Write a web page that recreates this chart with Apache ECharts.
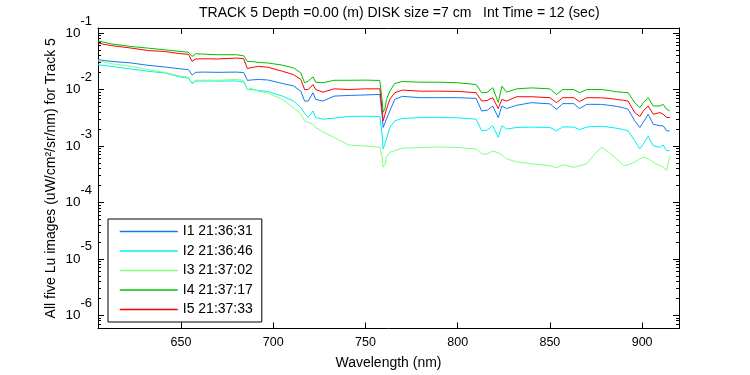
<!DOCTYPE html>
<html><head><meta charset="utf-8">
<script src="https://cdn.jsdelivr.net/npm/echarts@6.0.0/dist/echarts.min.js"></script>
<style>html,body{margin:0;padding:0;background:#fff}#c{width:750px;height:375px}</style>
</head><body><div id="c"></div>
<script>
// ---- data ----
const wavelength = [605, 612, 623, 632, 641, 650, 654, 656, 658, 662,
  670, 680, 684, 686, 688, 692, 697, 705, 711, 715,
  717, 719, 721.6, 723, 727, 733, 741, 750, 757.8, 759,
  759.6, 760.5, 761.4, 763.2, 765.9, 770, 780, 790, 800, 810,
  813, 816, 819, 822, 824, 826.5, 832, 840, 850, 853.6,
  857, 863, 866, 870, 872, 878, 882, 886, 890, 892.4,
  896, 898.8, 900.6, 903.3, 906, 909.6, 911.4, 913.3, 915];

const I1 = [0.0338, 0.0316, 0.0296, 0.0269, 0.0252, 0.0232, 0.0226, 0.0181, 0.0202, 0.0204,
  0.0202, 0.0204, 0.0200, 0.0145, 0.0148, 0.0151, 0.0148, 0.0128, 0.0116, 0.00937,
  0.00626, 0.00626, 0.0088, 0.0067, 0.00626, 0.00766, 0.00787, 0.00803, 0.0082, 0.00365,
  0.00213, 0.00225, 0.00299, 0.00417, 0.0067, 0.00757, 0.00718, 0.00718, 0.00718, 0.00698,
  0.00417, 0.00429, 0.00511, 0.00319, 0.00511, 0.0046, 0.00526, 0.00586, 0.00558, 0.00447,
  0.00563, 0.00563, 0.0046, 0.00547, 0.00547, 0.00547, 0.00526, 0.00505, 0.00475, 0.00447,
  0.00279, 0.00213, 0.00261, 0.00365, 0.00244, 0.00228, 0.00228, 0.00186, 0.00186];

const I2 = [0.0276, 0.0258, 0.0232, 0.0211, 0.0197, 0.0166, 0.0160, 0.0128, 0.0141, 0.0142,
  0.0141, 0.0142, 0.0136, 0.0100, 0.0100, 0.00964, 0.00927, 0.00766, 0.00626, 0.00479,
  0.00380, 0.00319, 0.00417, 0.00319, 0.00299, 0.00311, 0.00333, 0.00337, 0.00333, 0.00163,
  0.000886, 0.000961, 0.00133, 0.00213, 0.00279, 0.00307, 0.00319, 0.00319, 0.00316, 0.00299,
  0.00186, 0.00191, 0.00228, 0.00142, 0.00228, 0.00199, 0.00213, 0.00216, 0.00213, 0.00186,
  0.00218, 0.00216, 0.00195, 0.00216, 0.0022, 0.00224, 0.00216, 0.00207, 0.00195, 0.00186,
  0.00124, 0.000886, 0.00108, 0.00148, 0.00101, 0.000948, 0.00104, 0.000826, 0.000826];

const I3 = [0.0324, 0.0288, 0.0258, 0.0226, 0.0202, 0.0172, 0.0166, 0.0132, 0.0146, 0.0147,
  0.0146, 0.0151, 0.0145, 0.0100, 0.0105, 0.00937, 0.00871, 0.0067, 0.00479, 0.00365,
  0.00279, 0.00261, 0.00244, 0.00213, 0.00178, 0.00142, 0.00104, 0.00100, 0.000948, 0.000641,
  0.000423, 0.000464, 0.000633, 0.000774, 0.000826, 0.000912, 0.000941, 0.00096, 0.000941, 0.000886,
  0.000723, 0.000723, 0.000817, 0.000753, 0.000695, 0.000592, 0.000524, 0.000483, 0.000446, 0.000411,
  0.000464, 0.000419, 0.000446, 0.000483, 0.000592, 0.000948, 0.000774, 0.000592, 0.000451, 0.000464,
  0.000516, 0.000592, 0.000641, 0.000592, 0.000516, 0.000451, 0.000428, 0.000368, 0.000676];

const I4 = [0.0729, 0.0646, 0.0579, 0.0543, 0.0507, 0.0473, 0.0458, 0.0387, 0.0431, 0.0425,
  0.0414, 0.0414, 0.0397, 0.0315, 0.0315, 0.0303, 0.0296, 0.0271, 0.0242, 0.0197,
  0.0132, 0.0141, 0.0168, 0.0135, 0.0132, 0.0146, 0.0146, 0.0147, 0.0145, 0.0067,
  0.00396, 0.00447, 0.0067, 0.00937, 0.0128, 0.0139, 0.0135, 0.0135, 0.0132, 0.0123,
  0.0088, 0.0089, 0.0108, 0.00593, 0.0115, 0.0090, 0.0103, 0.0107, 0.0103, 0.0082,
  0.0100, 0.0100, 0.0088, 0.0100, 0.0100, 0.0100, 0.00964, 0.00914, 0.0089, 0.0088,
  0.00586, 0.00479, 0.00586, 0.00718, 0.00511, 0.00511, 0.00547, 0.00447, 0.00417];

const I5 = [0.0664, 0.0603, 0.0543, 0.0492, 0.0473, 0.0431, 0.0422, 0.0316, 0.0348, 0.0352,
  0.0348, 0.0362, 0.0352, 0.0235, 0.0245, 0.0258, 0.0249, 0.0211, 0.0184, 0.0151,
  0.0100, 0.0100, 0.0123, 0.0100, 0.0090, 0.0103, 0.0100, 0.0103, 0.0103, 0.00447,
  0.00279, 0.00287, 0.00447, 0.0067, 0.0088, 0.0098, 0.00937, 0.00937, 0.00927, 0.0088,
  0.00626, 0.00643, 0.00718, 0.00460, 0.0067, 0.00626, 0.00746, 0.00746, 0.00718, 0.00586,
  0.00718, 0.00718, 0.00611, 0.00718, 0.00718, 0.00713, 0.00698, 0.0067, 0.00643, 0.00626,
  0.00391, 0.00333, 0.00417, 0.00511, 0.00365, 0.00391, 0.00365, 0.00319, 0.00319];

const seriesNames = ['I1 21:36:31', 'I2 21:36:46', 'I3 21:37:02', 'I4 21:37:17', 'I5 21:37:33'];
const seriesValues = [I1, I2, I3, I4, I5];
const seriesColors = ['#1478F0', '#00F0F0', '#80FF80', '#00C000', '#FF0000'];

const xTicks = [650, 700, 750, 800, 850, 900];
const yTickExps = [-6, -5, -4, -3, -2, -1];
const xMin = 605, xMax = 920;
const yMin = 5.83e-7, yMax = 0.1233;

const titleText = 'TRACK 5 Depth =0.00 (m) DISK size =7 cm   Int Time = 12 (sec)';
const xName = 'Wavelength (nm)';
const yName = 'All five Lu images (uW/cm\u00B2/sr/nm) for Track 5';

// ---- build ----
const FONT = '"Liberation Sans", Arial, sans-serif';
const majorY = yTickExps.map(e => Math.pow(10, e));
const minorY = [];
for (let e = -7; e <= -1; e++) {
  for (let m = 2; m <= 9; m++) {
    const v = m * Math.pow(10, e);
    if (v > yMin && v < yMax) minorY.push(v);
  }
}
const blackLine = { show: true, lineStyle: { color: '#000', width: 1 } };
const tickStyle = { color: '#000', width: 1 };

const chart = echarts.init(document.getElementById('c'), null, { renderer: 'canvas' });

const logAxisBase = { type: 'log', logBase: 10, min: yMin, max: yMax, splitLine: { show: false }, minorTick: { show: false } };

const option = {
  animation: false,
  backgroundColor: '#fff',
  title: {
    text: titleText, left: 199, top: 6, padding: 0,
    textStyle: { fontFamily: FONT, fontSize: 14, fontWeight: 'normal', color: '#000' }
  },
  grid: { left: 98, top: 28, right: 71, bottom: 44, containLabel: false },
  legend: {
    orient: 'vertical', left: 108, top: 219,
    padding: [5.5, 9, 5.5, 11],
    itemWidth: 58, itemHeight: 14, itemGap: 5.5,
    itemStyle: { opacity: 0 },
    borderColor: '#000', borderWidth: 1, borderRadius: 0, backgroundColor: '#fff',
    textStyle: { fontFamily: FONT, fontSize: 14, color: '#000' },
    data: seriesNames.map((n, k) => ({
      name: n,
      itemStyle: { opacity: 0 },
      lineStyle: { color: seriesColors[k], width: 1.5, opacity: 1 }
    }))
  },
  xAxis: [
    {
      type: 'value', min: xMin, max: xMax, position: 'bottom',
      axisLine: blackLine,
      axisTick: { show: true, inside: true, length: 6, customValues: xTicks, lineStyle: tickStyle },
      axisLabel: { customValues: xTicks, margin: 8, color: '#000', fontFamily: FONT, fontSize: 12.5 },
      splitLine: { show: false },
      name: xName, nameLocation: 'middle', nameGap: 27.5, nameMoveOverlap: false,
      nameTextStyle: { fontFamily: FONT, fontSize: 14, color: '#000' }
    },
    {
      type: 'value', min: xMin, max: xMax, position: 'top',
      axisLine: blackLine,
      axisTick: { show: true, inside: true, length: 6, customValues: xTicks, lineStyle: tickStyle },
      axisLabel: { show: false }, splitLine: { show: false }
    }
  ],
  yAxis: [
    Object.assign({}, logAxisBase, {
      position: 'left',
      axisLine: blackLine,
      axisTick: { show: true, inside: true, length: 6, customValues: majorY, lineStyle: tickStyle },
      axisLabel: {
        customValues: majorY, margin: 6, color: '#000',
        formatter: function (v) { return '{b|10}{s|' + Math.round(Math.log10(v)) + '}'; },
        rich: {
          b: { fontFamily: FONT, fontSize: 13.5, color: '#000', verticalAlign: 'middle' },
          s: { fontFamily: FONT, fontSize: 13, color: '#000', verticalAlign: 'middle', padding: [0, 0, 24, 0] }
        }
      },
      name: yName, nameLocation: 'middle', nameGap: 40, nameMoveOverlap: false,
      nameTextStyle: { fontFamily: FONT, fontSize: 14, color: '#000' }
    }),
    Object.assign({}, logAxisBase, {
      position: 'left',
      axisLine: { show: false },
      axisTick: { show: true, inside: true, length: 3, customValues: minorY, lineStyle: tickStyle },
      axisLabel: { show: false }
    }),
    Object.assign({}, logAxisBase, {
      position: 'right',
      axisLine: blackLine,
      axisTick: { show: true, inside: true, length: 6, customValues: majorY, lineStyle: tickStyle },
      axisLabel: { show: false }
    }),
    Object.assign({}, logAxisBase, {
      position: 'right',
      axisLine: { show: false },
      axisTick: { show: true, inside: true, length: 3, customValues: minorY, lineStyle: tickStyle },
      axisLabel: { show: false }
    })
  ],
  series: seriesNames.map((name, k) => ({
    name: name, type: 'line', xAxisIndex: 0, yAxisIndex: 0,
    symbol: 'none', showSymbol: false, silent: true,
    lineStyle: { color: seriesColors[k], width: 1 },
    itemStyle: { color: seriesColors[k] },
    data: wavelength.map((w, i) => [w, seriesValues[k][i]])
  }))
};
chart.setOption(option);
</script>
</body></html>
